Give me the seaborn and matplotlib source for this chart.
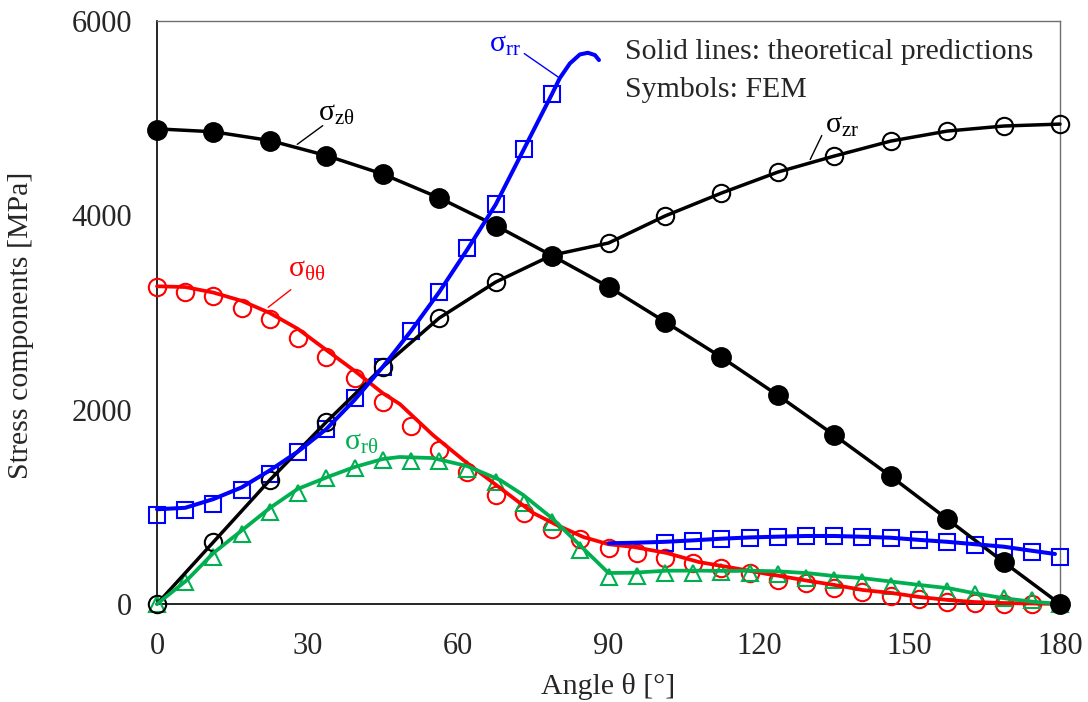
import numpy as np
import pandas as pd
import matplotlib
matplotlib.use("Agg")
import matplotlib.pyplot as plt
from matplotlib.ticker import MultipleLocator
import seaborn as sns

# ---------------- data ----------------
# FEM angles
ang_coarse = [0, 11.25, 22.5, 33.75, 45, 56.25, 67.5, 78.75, 90, 101.25,
              112.5, 123.75, 135, 146.25, 157.5, 168.75, 180]
ang_fine = [0, 5.625, 11.25, 16.875, 22.5, 28.125, 33.75, 39.375, 45, 50.625,
            56.25, 61.875, 67.5, 73.125, 78.75, 84.375, 90, 95.625, 101.25,
            106.875, 112.5, 118.125, 123.75, 129.375, 135, 140.625, 146.25,
            151.875, 157.5, 163.125, 168.75, 174.375, 180]

# sigma_z-theta (filled circles)
szt_fem = [4880, 4857, 4764, 4610, 4425, 4178, 3890, 3581, 3262, 2902,
           2542, 2150, 1739, 1317, 875, 432, 0]
szt_th = [4890, 4860, 4770, 4615, 4425, 4180, 3895, 3585, 3265, 2905,
          2540, 2148, 1738, 1315, 875, 432, 0]

# sigma_zr (open black circles)
szr_fem = [0, 638, 1276, 1873, 2439, 2943, 3313, 3581, 3715, 3993,
           4229, 4445, 4610, 4764, 4867, 4919, 4939]
szr_th = [0, 638, 1276, 1873, 2439, 2943, 3313, 3590, 3715, 3993,
          4229, 4445, 4610, 4764, 4867, 4919, 4939]

# sigma_rr (blue squares), two branches
srr_fem_ang1 = [0, 5.625, 11.25, 16.875, 22.5, 28.125, 33.75, 39.375, 45,
                50.625, 56.25, 61.875, 67.5, 73.125, 78.75]
srr_fem1 = [920, 970, 1025, 1173, 1338, 1564, 1800, 2115, 2439,
            2809, 3210, 3660, 4116, 4680, 5250]
srr_fem_ang2 = [101.25, 106.875, 112.5, 118.125, 123.75, 129.375, 135, 140.625,
                146.25, 151.875, 157.5, 163.125, 168.75, 174.375, 180]
srr_fem2 = [630, 648, 668, 680, 690, 695, 700, 688,
            682, 655, 635, 607, 585, 535, 487]
srr_th_ang1 = [0, 5.625, 11.25, 16.875, 22.5, 28.125, 33.75, 39.375, 45, 50.625,
               56.25, 61.875, 67.5, 73.125, 78.75, 80.3, 82.3, 84.3, 85.9, 87.3, 88.1]
srr_th1 = [975, 990, 1080, 1200, 1375, 1570, 1800, 2100, 2440, 2810,
           3210, 3650, 4110, 4680, 5250, 5413, 5563, 5656, 5673, 5649, 5598]
srr_th_ang2 = [90, 95, 101.25, 106.875, 112.5, 118.125, 123.75, 129.375, 135,
               140.625, 146.25, 151.875, 157.5, 163.125, 168.75, 174.375, 179]
srr_th2 = [625, 630, 640, 655, 672, 685, 693, 700, 700,
           692, 682, 660, 640, 615, 590, 548, 515]

# sigma_theta-theta (red open circles)
stt_fem = [3259, 3214, 3169, 3049, 2929, 2734, 2545, 2322, 2082, 1835,
           1585, 1355, 1122, 940, 770, 672, 575, 524, 472, 419, 367, 316,
           247, 213, 161, 127, 82, 50, 22, 10, 0, 0, 0]
stt_th_ang = [0, 5.625, 11.25, 16.875, 22.5, 28.125, 33.75, 39.375, 45, 48.4,
              55, 61.8, 68.4, 75, 79.7, 85, 90, 95, 101.6, 108, 115, 121.5,
              124, 129.6, 135, 140.7, 146.5, 152, 157.7, 163, 169, 180]
stt_th = [3270, 3262, 3205, 3120, 2995, 2830, 2614, 2400, 2170, 2058,
          1739, 1451, 1194, 936, 813, 689, 615, 587, 525, 432, 370, 310,
          290, 240, 196, 144, 113, 72, 41, 20, 10, 0]

# sigma_r-theta (green triangles)
srt_fem = [0, 230, 487, 717, 950, 1139, 1300, 1396, 1482, 1475,
           1475, 1389, 1252, 1040, 840, 556, 280, 293, 320, 316, 333, 322,
           305, 264, 247, 230, 185, 158, 130, 105, 65, 41, 0]
srt_th_ang = [0, 6, 11.25, 17, 22.5, 28, 34, 39.4, 45, 48.4, 55, 61.8, 68.4,
              73, 78.7, 84.4, 90, 95, 101.6, 108, 115, 118, 124, 130, 135,
              141, 146.5, 152, 158, 163, 169, 174.5, 180]
srt_th = [0, 247, 525, 761, 988, 1183, 1307, 1410, 1492, 1513, 1502, 1420,
          1276, 1122, 885, 600, 319, 322, 343, 343, 340, 343, 336, 316, 288,
          264, 230, 196, 161, 110, 58, 24, 0]

x_ticks = [0, 30, 60, 90, 120, 150, 180]
y_ticks = [0, 2000, 4000, 6000]
x_label = "Angle θ [°]"
y_label = "Stress components [MPa]"
note_lines = ["Solid lines: theoretical predictions", "Symbols: FEM"]

# ---------------- style ----------------
sns.set_style("white")
plt.rcParams["font.family"] = ["Liberation Serif", "DejaVu Serif"]
plt.rcParams["mathtext.fontset"] = "custom"
plt.rcParams["mathtext.rm"] = "Liberation Serif"
plt.rcParams["mathtext.it"] = "Liberation Serif:italic"

BLACK = "#000000"
BLUE = "#0000FF"
RED = "#FF0000"
GREEN = "#00B050"
FS = 21.5
TFS = 22
LW = 2.5
MEW = 1.5

fig = plt.figure(figsize=(10.88, 7.02), dpi=100)
W, H = 1088, 702
ax = fig.add_axes([157 / W, (H - 604) / H, (1060 - 157) / W, (604 - 21) / H])


def pts(a, v):
    return pd.DataFrame({"angle": a, "value": v})


def markers(a, v, marker, color, ms, filled=False, z=3):
    sns.lineplot(data=pts(a, v), x="angle", y="value", ax=ax, linestyle="",
                 marker=marker, markersize=ms,
                 markerfacecolor=color if filled else "none",
                 markeredgecolor=color, markeredgewidth=MEW, color=color,
                 zorder=z, clip_on=False)


def line(a, v, color, lw=LW):
    sns.lineplot(data=pts(a, v), x="angle", y="value", ax=ax, color=color,
                 linewidth=lw, sort=False, estimator=None, zorder=4,
                 clip_on=False)


# markers
markers(ang_fine, stt_fem, "o", RED, 12.5)
markers(ang_fine, srt_fem, "^", GREEN, 12)
markers(srr_fem_ang1, srr_fem1, "s", BLUE, 11.5)
markers(srr_fem_ang2, srr_fem2, "s", BLUE, 11.5)
markers(ang_coarse, szr_fem, "o", BLACK, 12.5, z=3.5)
markers(ang_coarse, szt_fem, "o", BLACK, 13.5, filled=True, z=5)

# theoretical lines
line(ang_coarse, szt_th, BLACK)
line(ang_coarse, szr_th, BLACK)
line(stt_th_ang, stt_th, RED, 2.7)
line(srt_th_ang, srt_th, GREEN, 2.7)
line(srr_th_ang1, srr_th1, BLUE, 2.9)
line(srr_th_ang2, srr_th2, BLUE, 2.9)

ax.set_xlim(0, 180)
ax.set_ylim(0, 6000)
ax.set_xticks(x_ticks)
ax.set_yticks(y_ticks)
ax.xaxis.set_minor_locator(MultipleLocator(10))
ax.yaxis.set_minor_locator(MultipleLocator(500))
ax.tick_params(axis="both", which="both", direction="in", length=4.5,
               width=1.0, color="black", labelsize=TFS)
ax.tick_params(axis="x", which="major", pad=20)
ax.tick_params(axis="y", which="major", pad=18)
ax.set_xlabel(x_label, fontsize=FS, labelpad=9)
ax.set_ylabel(y_label, fontsize=FS)
ax.yaxis.set_label_coords((34 - 157) / (1060 - 157), (604 - 325) / (604 - 21))
for side in ["left", "bottom"]:
    ax.spines[side].set_color("black")
    ax.spines[side].set_linewidth(1.2)
for side in ["top", "right"]:
    ax.spines[side].set_color("#6e6e6e")
    ax.spines[side].set_linewidth(1.0)
ax.grid(False)
if ax.get_legend() is not None:
    ax.get_legend().remove()


def px2d(px, py):
    return ((px - 157) / (1060 - 157) * 180, (604 - py) / (604 - 21) * 6000)


def label(txt, color, pos, lead_from=None, lead_to=None):
    x, y = px2d(*pos)
    ax.text(x, y, txt, color=color, fontsize=FS, ha="left", va="baseline",
            zorder=6)
    if lead_from is not None:
        ax.annotate("", xy=px2d(*lead_to), xytext=px2d(*lead_from),
                    arrowprops=dict(arrowstyle="-", color=color, lw=1.0),
                    zorder=6)


label("σ$_\\mathrm{zθ}$", BLACK, (318, 121), (325, 124), (295, 146))
label("σ$_\\mathrm{zr}$", BLACK, (825, 133), (823, 133), (809, 162))
label("σ$_\\mathrm{rr}$", BLUE, (489, 52), (522, 52), (561, 79))
label("σ$_\\mathrm{θθ}$", RED, (288, 277), (293, 288), (266, 309))
label("σ$_\\mathrm{rθ}$", GREEN, (344, 450))

nx, ny = px2d(625, 59)
ax.text(nx, ny, note_lines[0], fontsize=FS, ha="left", va="baseline", zorder=6)
nx2, ny2 = px2d(625, 97)
ax.text(nx2, ny2, note_lines[1], fontsize=FS, ha="left", va="baseline", zorder=6)

fig.savefig("out.png", dpi=100)
